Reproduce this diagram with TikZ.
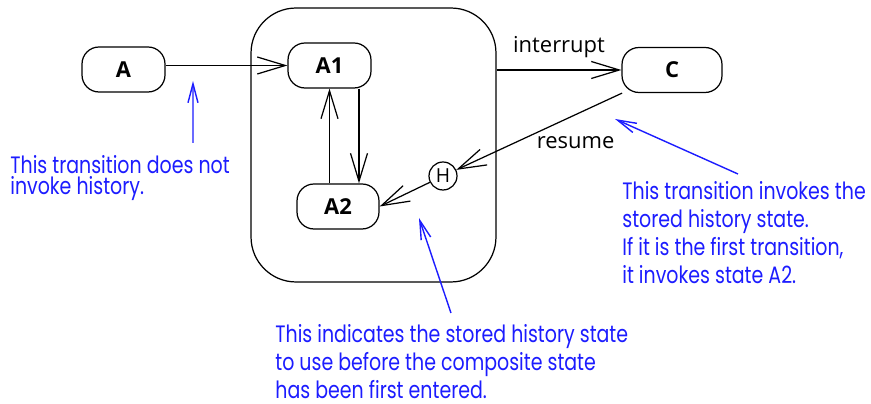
\documentclass[tikz,border=0pt]{standalone}
\usepackage{fontspec}
\setmainfont{Open Sans}
\newfontfamily\notefont[FakeStretch=0.8]{Poppins}
\usetikzlibrary{arrows.meta}
\definecolor{HsInk}{RGB}{0,0,0}
\definecolor{HsBlue}{RGB}{28,28,255}
\tikzset{
  hs/state/.style={
    draw=HsInk,
    line width=0.7pt,
    rounded corners=0.34cm,
    fill=white,
    minimum height=0.9cm,
    inner sep=0pt,
    font=\fontsize{12.5}{15}\selectfont\bfseries
  },
  hs/composite/.style={
    draw=HsInk,
    line width=0.7pt,
    rounded corners=0.9cm,
    inner sep=0pt
  },
  hs/history/.style={
    circle,
    draw=HsInk,
    line width=0.7pt,
    fill=white,
    minimum size=0.56cm,
    inner sep=0pt,
    font=\fontsize{11}{13}\selectfont
  },
  hs/note/.style={
    anchor=north west,
    inner sep=0pt,
    align=left,
    text=HsBlue,
    font=\notefont\fontsize{13.5}{16}\selectfont
  },
  hs/label/.style={font=\fontsize{12.5}{15}\selectfont, text=HsInk},
  hs/trans/.style={-{Straight Barb[length=0.56cm,width=0.34cm]}, line width=0.7pt, draw=HsInk},
  hs/notearrow/.style={-{Straight Barb[length=0.38cm,width=0.2cm]}, line width=0.8pt, draw=HsBlue}
}
\begin{document}
\begin{tikzpicture}[x=0.02cm,y=-0.02cm]
  \useasboundingbox (0,0) rectangle (871,404);
  \node[hs/composite, minimum width=4.9cm, minimum height=5.48cm] (comp) at (373.5,145) {};
  \node[hs/state, minimum width=1.66cm] (A) at (123.5,69.5) {A};
  \node[hs/state, minimum width=1.66cm] (A1) at (329.5,65.5) {A1};
  \node[hs/state, minimum width=1.64cm] (A2) at (338,206.5) {A2};
  \node[hs/state, minimum width=2.0cm] (C) at (672,70) {C};
  \node[hs/history] (H) at (443,176) {H};

  \draw[hs/trans] (A.east |- A1.west) -- (A1.west);
  \draw[hs/trans] ([xshift=0.59cm]A1.south) -- ([xshift=0.59cm]A1.south |- A2.north);
  \draw[hs/trans] (A1.south |- A2.north) -- (A1.south);
  \draw[hs/trans] (comp.east |- C.west) -- node[hs/label, midway, above=0.12cm] (lbint) {interrupt} (C.west);
  \draw[hs/trans] (C) -- node[hs/label, pos=0.28, below=0.31cm] (lbres) {resume} (H);
  \draw[hs/trans] (H) -- (A2.east);

  \node[hs/note, font=\notefont\fontsize{13.5}{12.2}\selectfont] (note1) at (10,155)
    {This transition does not\\invoke history.};
  \node[hs/note] (note2) at (622,181)
    {This transition invokes the\\stored history state.\\If it is the first transition,\\it invokes state A2.};
  \node[hs/note] (note3) at (275,324)
    {This indicates the stored history state\\to use before the composite state\\has been first entered.};

  \coordinate (tipA) at (193,81);
  \coordinate (tipC) at (615,119);
  \coordinate (tipH) at (419,218);
  \draw[hs/notearrow] ([xshift=3.66cm,yshift=0.24cm]note1.north west) -- (tipA);
  \draw[hs/notearrow] ([xshift=2.32cm,yshift=0.14cm]note2.north west) -- (tipC);
  \draw[hs/notearrow] ([xshift=3.52cm,yshift=0.22cm]note3.north west) -- (tipH);
\end{tikzpicture}
\end{document}
